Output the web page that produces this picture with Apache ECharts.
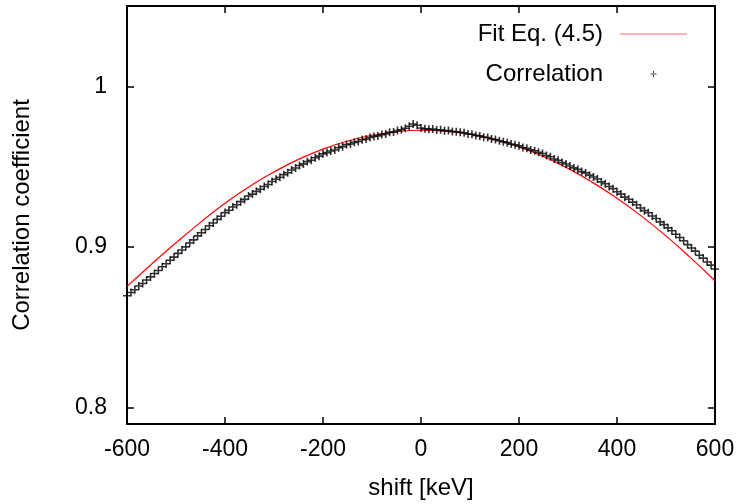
<!DOCTYPE html>
<html>
<head>
<meta charset="utf-8">
<script src="https://cdn.jsdelivr.net/npm/echarts@6/dist/echarts.min.js"></script>
<style>
  html, body { margin: 0; padding: 0; background: #fff; }
  #myChart { width: 740px; height: 504px; }
</style>
</head>
<body>
<div id="myChart"></div>
<script>
    // x ticks of the shift axis
    let shiftTicks = [-600, -400, -200, 0, 200, 400, 600];
    let corrTicks = [0.8, 0.9, 1];

    // fit curve, Eq. (4.5), read every 50 keV
    let fitShift = [-600, -550, -500, -450, -400, -350, -300, -250, -200, -150, -100, -50,
        0, 50, 100, 150, 200, 250, 300, 350, 400, 450, 500, 550, 600];
    let fitValue = [0.8756, 0.8894, 0.9027, 0.9154, 0.9273, 0.9378, 0.9468, 0.9546, 0.9610, 0.9660, 0.9696, 0.9718,
        0.9727, 0.9721, 0.9702, 0.9670, 0.9624, 0.9564, 0.9490, 0.9403, 0.9304, 0.9193, 0.9070, 0.8935, 0.8791];

    // measured correlation, one point every 8 keV from -600 to 600
    let corrValue = [
        0.8698, 0.8718, 0.8735, 0.8758, 0.8774, 0.8796, 0.8815, 0.8836, 0.8855, 0.8878,
        0.8897, 0.8919, 0.8938, 0.8961, 0.8982, 0.9002, 0.9026, 0.9045, 0.9070, 0.9090,
        0.9110, 0.9133, 0.9150, 0.9173, 0.9192, 0.9215, 0.9230, 0.9250, 0.9264, 0.9283,
        0.9297, 0.9318, 0.9330, 0.9347, 0.9360, 0.9377, 0.9390, 0.9408, 0.9422, 0.9435,
        0.9451, 0.9463, 0.9480, 0.9492, 0.9508, 0.9518, 0.9532, 0.9541, 0.9556, 0.9566,
        0.9580, 0.9588, 0.9598, 0.9604, 0.9618, 0.9625, 0.9638, 0.9642, 0.9652, 0.9657,
        0.9668, 0.9672, 0.9682, 0.9688, 0.9692, 0.9700, 0.9704, 0.9714, 0.9716, 0.9726,
        0.9730, 0.9740, 0.9752, 0.9766, 0.9758, 0.9741, 0.9736, 0.9733, 0.9735, 0.9729,
        0.9730, 0.9724, 0.9726, 0.9720, 0.9718, 0.9715, 0.9712, 0.9704, 0.9702, 0.9695,
        0.9692, 0.9684, 0.9682, 0.9673, 0.9669, 0.9662, 0.9655, 0.9650, 0.9641, 0.9637,
        0.9630, 0.9620, 0.9615, 0.9605, 0.9600, 0.9590, 0.9583, 0.9570, 0.9562, 0.9548,
        0.9540, 0.9526, 0.9517, 0.9505, 0.9493, 0.9484, 0.9470, 0.9462, 0.9448, 0.9436,
        0.9424, 0.9406, 0.9394, 0.9377, 0.9364, 0.9345, 0.9330, 0.9311, 0.9298, 0.9280,
        0.9264, 0.9244, 0.9227, 0.9214, 0.9194, 0.9178, 0.9157, 0.9140, 0.9120, 0.9102,
        0.9080, 0.9060, 0.9040, 0.9016, 0.8995, 0.8975, 0.8950, 0.8932, 0.8908, 0.8888,
        0.8864
    ];
    let corrShift = corrValue.map((v, i) => -600 + 8 * i);

    let fontName = 'Liberation Sans';
    let tickFont = 23;
    let nameFont = 24;
    // gnuplot style "+" point (filled thin bars)
    let plusSymbol = 'path://M0,3.2h8v1.6h-8zM3.2,0h1.6v8h-1.6z';
    let plusLegend = 'path://M0,0M67,14M30.5,6.5h6v1h-6zM33,4v6h1v-6z';
    let lineLegend = 'path://M0,0M67,14M0,6.4h67v1.2h-67z';

    let myChart = echarts.init(document.getElementById('myChart'));

    let xBase = {
        type: 'value',
        min: -600,
        max: 600,
        interval: 200,
        axisLine: { show: true, onZero: false, lineStyle: { color: '#000', width: 2 } },
        axisTick: { show: true, inside: true, length: 7, lineStyle: { color: '#000', width: 1.5 } },
        splitLine: { show: false }
    };
    let yBase = {
        type: 'value',
        min: 0.79,
        max: 1.05,
        axisLine: { show: true, onZero: false, lineStyle: { color: '#000', width: 2 } },
        axisTick: { show: true, inside: true, length: 7, customValues: corrTicks, lineStyle: { color: '#000', width: 1.5 } },
        splitLine: { show: false }
    };

    let option = {
        animation: false,
        backgroundColor: '#fff',
        textStyle: { fontFamily: fontName },
        grid: { left: 127, right: 25, top: 6, bottom: 80, outerBoundsMode: 'none' },
        legend: {
            orient: 'vertical',
            align: 'right',
            right: 53,
            top: 22,
            padding: 0,
            itemWidth: 67,
            itemHeight: 14,
            itemGap: 16,
            textStyle: { fontFamily: fontName, fontSize: nameFont, color: '#000', lineHeight: 24, padding: [0, 12, 0, 0] },
            data: [
                { name: 'Fit Eq. (4.5)', icon: lineLegend, itemStyle: { color: '#ff6666' } },
                { name: 'Correlation', icon: plusLegend, itemStyle: { color: '#000' } }
            ]
        },
        xAxis: [
            Object.assign({}, xBase, {
                position: 'bottom',
                name: 'shift [keV]',
                nameLocation: 'middle',
                nameGap: 52,
                nameTextStyle: { fontFamily: fontName, fontSize: nameFont, color: '#000' },
                axisLabel: {
                    show: true, margin: 14, color: '#000', fontFamily: fontName, fontSize: tickFont,
                    customValues: shiftTicks
                }
            }),
            Object.assign({}, xBase, { position: 'top', axisLabel: { show: false } })
        ],
        yAxis: [
            Object.assign({}, yBase, {
                position: 'left',
                name: 'Correlation coefficient',
                nameLocation: 'middle',
                nameRotate: 90,
                nameGap: 93,
                nameTextStyle: { fontFamily: fontName, fontSize: nameFont, color: '#000' },
                axisLabel: {
                    show: true, margin: 20, color: '#000', fontFamily: fontName, fontSize: tickFont,
                    customValues: corrTicks,
                    formatter: function (v) { return v === 1 ? '1' : v.toFixed(1); }
                }
            }),
            Object.assign({}, yBase, { position: 'right', axisLabel: { show: false } })
        ],
        series: [
            {
                name: 'Fit Eq. (4.5)',
                type: 'line',
                xAxisIndex: 0,
                yAxisIndex: 0,
                data: fitShift.map((x, i) => [x, fitValue[i]]),
                smooth: true,
                symbol: 'none',
                showSymbol: false,
                lineStyle: { color: '#ff0000', width: 1.2 },
                itemStyle: { color: '#ff0000' },
                z: 2
            },
            {
                name: 'Correlation',
                type: 'scatter',
                xAxisIndex: 0,
                yAxisIndex: 0,
                data: corrShift.map((x, i) => [x, corrValue[i]]),
                symbol: plusSymbol,
                symbolSize: 8,
                itemStyle: { color: '#000' },
                z: 3
            }
        ]
    };
    myChart.setOption(option);
</script>
</body>
</html>
